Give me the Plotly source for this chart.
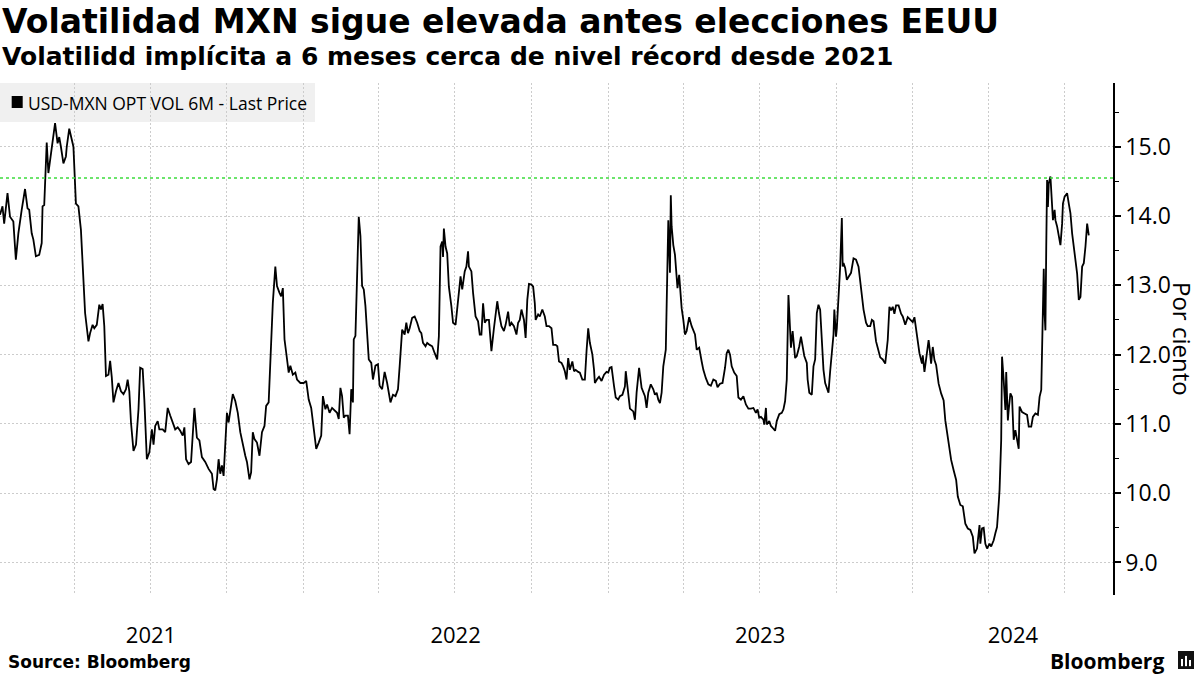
import pandas as pd
import plotly.graph_objects as go

# --- DATA: USD-MXN 6M implied vol (readings from the chart) ---
vol_2021 = [
    ("2021-01-02", 14.02), ("2021-01-05", 14.14), ("2021-01-07", 13.89), ("2021-01-11", 14.33), ("2021-01-14", 13.99),
    ("2021-01-18", 13.92), ("2021-01-21", 13.37), ("2021-01-24", 13.75), ("2021-01-28", 14.09),
    ("2021-02-01", 14.39), ("2021-02-04", 14.11), ("2021-02-06", 14.09), ("2021-02-09", 13.75), ("2021-02-11", 13.66),
    ("2021-02-14", 13.42), ("2021-02-18", 13.44), ("2021-02-21", 13.61), ("2021-02-22", 14.14), ("2021-02-24", 14.16),
    ("2021-02-27", 15.06),
    ("2021-03-01", 14.62), ("2021-03-03", 14.81), ("2021-03-06", 15.07), ("2021-03-09", 15.34), ("2021-03-12", 15.05),
    ("2021-03-14", 15.14), ("2021-03-16", 15.00), ("2021-03-19", 14.76), ("2021-03-22", 14.86), ("2021-03-23", 15.00),
    ("2021-03-26", 15.26), ("2021-03-29", 15.12), ("2021-03-31", 15.00),
    ("2021-04-03", 14.18), ("2021-04-06", 14.14), ("2021-04-09", 13.80), ("2021-04-11", 13.32), ("2021-04-14", 12.60),
    ("2021-04-18", 12.19), ("2021-04-20", 12.31), ("2021-04-23", 12.43), ("2021-04-25", 12.38), ("2021-04-28", 12.43),
    ("2021-05-01", 12.72), ("2021-05-03", 12.65), ("2021-05-05", 12.73), ("2021-05-07", 12.41), ("2021-05-09", 11.69),
    ("2021-05-12", 11.71), ("2021-05-14", 11.91), ("2021-05-16", 11.67), ("2021-05-18", 11.31), ("2021-05-21", 11.47),
    ("2021-05-24", 11.59), ("2021-05-27", 11.47), ("2021-05-30", 11.43),
    ("2021-06-02", 11.50), ("2021-06-04", 11.64), ("2021-06-06", 11.47), ("2021-06-08", 11.02), ("2021-06-11", 10.61),
    ("2021-06-14", 10.70), ("2021-06-17", 11.21), ("2021-06-19", 11.81), ("2021-06-22", 11.79), ("2021-06-24", 11.35),
    ("2021-06-27", 10.49), ("2021-06-30", 10.59),
    ("2021-07-03", 10.92), ("2021-07-05", 10.70), ("2021-07-07", 10.97), ("2021-07-10", 11.04), ("2021-07-12", 10.92),
    ("2021-07-16", 10.92), ("2021-07-19", 10.88), ("2021-07-22", 11.23), ("2021-07-25", 11.12), ("2021-07-28", 11.02),
    ("2021-07-31", 10.92),
    ("2021-08-03", 10.95), ("2021-08-06", 10.90), ("2021-08-09", 10.83), ("2021-08-11", 10.95), ("2021-08-13", 10.49),
    ("2021-08-16", 10.42), ("2021-08-19", 10.45), ("2021-08-21", 10.83), ("2021-08-23", 11.23), ("2021-08-26", 10.80),
    ("2021-08-29", 10.76),
    ("2021-09-01", 10.52), ("2021-09-05", 10.45), ("2021-09-09", 10.35), ("2021-09-13", 10.28), ("2021-09-15", 10.06),
    ("2021-09-17", 10.04), ("2021-09-19", 10.20), ("2021-09-21", 10.49), ("2021-09-23", 10.28), ("2021-09-25", 10.40),
    ("2021-09-27", 10.25), ("2021-09-29", 10.68),
    ("2021-10-01", 11.16), ("2021-10-03", 11.02), ("2021-10-05", 11.16), ("2021-10-08", 11.43), ("2021-10-11", 11.33),
    ("2021-10-14", 11.16), ("2021-10-17", 10.88), ("2021-10-20", 10.68), ("2021-10-23", 10.54), ("2021-10-25", 10.45),
    ("2021-10-28", 10.20), ("2021-10-30", 10.30),
    ("2021-11-01", 10.88), ("2021-11-03", 10.78), ("2021-11-06", 10.73), ("2021-11-09", 10.54), ("2021-11-12", 10.88),
    ("2021-11-15", 10.97), ("2021-11-17", 11.26), ("2021-11-20", 11.31), ("2021-11-23", 12.12), ("2021-11-25", 12.75),
    ("2021-11-28", 13.27), ("2021-11-30", 12.99),
    ("2021-12-03", 12.89), ("2021-12-05", 12.84), ("2021-12-07", 12.96), ("2021-12-09", 12.22), ("2021-12-11", 12.03),
    ("2021-12-14", 11.74), ("2021-12-16", 11.84), ("2021-12-19", 11.71), ("2021-12-22", 11.74), ("2021-12-24", 11.64),
    ("2021-12-28", 11.59),
]

vol_2022 = [
    ("2022-01-01", 11.59), ("2022-01-04", 11.62), ("2022-01-07", 11.35), ("2022-01-10", 11.23), ("2022-01-13", 10.97),
    ("2022-01-16", 10.64), ("2022-01-19", 10.73), ("2022-01-22", 10.83), ("2022-01-24", 11.40), ("2022-01-27", 11.21),
    ("2022-01-29", 11.28),
    ("2022-02-01", 11.16), ("2022-02-04", 11.23), ("2022-02-07", 11.19), ("2022-02-10", 11.16), ("2022-02-12", 11.07),
    ("2022-02-14", 11.52), ("2022-02-16", 11.40), ("2022-02-18", 11.09), ("2022-02-20", 11.12), ("2022-02-23", 11.12),
    ("2022-02-25", 10.85), ("2022-02-27", 11.50),
    ("2022-03-01", 11.31), ("2022-03-02", 12.22), ("2022-03-04", 12.27), ("2022-03-06", 12.99), ("2022-03-08", 13.99),
    ("2022-03-10", 13.71), ("2022-03-12", 12.99), ("2022-03-14", 12.94), ("2022-03-16", 12.70), ("2022-03-18", 12.31),
    ("2022-03-20", 11.93), ("2022-03-23", 11.88), ("2022-03-25", 11.64), ("2022-03-28", 11.84), ("2022-03-31", 11.86),
    ("2022-04-02", 11.55), ("2022-04-05", 11.50), ("2022-04-08", 11.75), ("2022-04-11", 11.59), ("2022-04-15", 11.31),
    ("2022-04-18", 11.42), ("2022-04-21", 11.40), ("2022-04-24", 11.50), ("2022-04-26", 11.83), ("2022-04-29", 12.36),
    ("2022-05-02", 12.29), ("2022-05-04", 12.46), ("2022-05-06", 12.31), ("2022-05-08", 12.38), ("2022-05-11", 12.53),
    ("2022-05-14", 12.55), ("2022-05-17", 12.46), ("2022-05-20", 12.34), ("2022-05-22", 12.31), ("2022-05-24", 12.17),
    ("2022-05-27", 12.12), ("2022-05-29", 12.17),
    ("2022-06-01", 12.14), ("2022-06-04", 12.12), ("2022-06-07", 12.02), ("2022-06-10", 11.93), ("2022-06-12", 12.26),
    ("2022-06-14", 13.56), ("2022-06-16", 13.63), ("2022-06-17", 13.41), ("2022-06-18", 13.82), ("2022-06-20", 13.56),
    ("2022-06-22", 13.46), ("2022-06-24", 12.98), ("2022-06-27", 12.70), ("2022-06-29", 12.46),
    ("2022-07-02", 12.43), ("2022-07-04", 12.67), ("2022-07-06", 12.86), ("2022-07-08", 13.13), ("2022-07-10", 12.94),
    ("2022-07-13", 13.20), ("2022-07-15", 13.27), ("2022-07-17", 13.49), ("2022-07-18", 13.27), ("2022-07-21", 13.20),
    ("2022-07-23", 12.89), ("2022-07-26", 12.55), ("2022-07-29", 12.48), ("2022-07-31", 12.29),
    ("2022-08-02", 12.29), ("2022-08-04", 12.74), ("2022-08-06", 12.46), ("2022-08-08", 12.50), ("2022-08-11", 12.50),
    ("2022-08-13", 12.17), ("2022-08-14", 12.05), ("2022-08-17", 12.38), ("2022-08-19", 12.58), ("2022-08-21", 12.77),
    ("2022-08-23", 12.60), ("2022-08-26", 12.41), ("2022-08-29", 12.34), ("2022-08-31", 12.43),
    ("2022-09-03", 12.62), ("2022-09-05", 12.41), ("2022-09-07", 12.46), ("2022-09-10", 12.41), ("2022-09-13", 12.29),
    ("2022-09-15", 12.46), ("2022-09-17", 12.50), ("2022-09-19", 12.65), ("2022-09-22", 12.50), ("2022-09-24", 12.24),
    ("2022-09-26", 12.79), ("2022-09-28", 13.02),
    ("2022-10-01", 13.01), ("2022-10-03", 12.98), ("2022-10-05", 12.74), ("2022-10-06", 12.50), ("2022-10-09", 12.58),
    ("2022-10-11", 12.55), ("2022-10-14", 12.65), ("2022-10-17", 12.55), ("2022-10-19", 12.41), ("2022-10-22", 12.41),
    ("2022-10-25", 12.38), ("2022-10-27", 12.14), ("2022-10-30", 12.14),
    ("2022-11-01", 12.12), ("2022-11-03", 11.90), ("2022-11-06", 11.88), ("2022-11-08", 11.83), ("2022-11-10", 11.76),
    ("2022-11-12", 11.64), ("2022-11-14", 11.95), ("2022-11-16", 11.78), ("2022-11-19", 11.90), ("2022-11-21", 11.76),
    ("2022-11-23", 11.78), ("2022-11-26", 11.75), ("2022-11-28", 11.74),
    ("2022-12-01", 11.64), ("2022-12-04", 11.64), ("2022-12-06", 12.05), ("2022-12-08", 12.38), ("2022-12-10", 12.17),
    ("2022-12-13", 12.00), ("2022-12-15", 11.78), ("2022-12-16", 11.59), ("2022-12-19", 11.65), ("2022-12-21", 11.68),
    ("2022-12-24", 11.62), ("2022-12-27", 11.71), ("2022-12-30", 11.75),
]

vol_2023 = [
    ("2023-01-01", 11.74), ("2023-01-03", 11.81), ("2023-01-05", 11.82), ("2023-01-08", 11.54), ("2023-01-10", 11.38),
    ("2023-01-13", 11.35), ("2023-01-15", 11.40), ("2023-01-18", 11.42), ("2023-01-21", 11.54), ("2023-01-22", 11.76),
    ("2023-01-24", 11.54), ("2023-01-26", 11.26), ("2023-01-27", 11.22), ("2023-01-31", 11.18),
    ("2023-02-02", 11.06), ("2023-02-04", 11.45), ("2023-02-07", 11.81), ("2023-02-10", 11.52), ("2023-02-12", 11.45),
    ("2023-02-14", 11.40), ("2023-02-16", 11.23), ("2023-02-18", 11.45), ("2023-02-21", 11.57), ("2023-02-24", 11.50),
    ("2023-02-26", 11.42), ("2023-02-28", 11.45),
    ("2023-03-02", 11.35), ("2023-03-04", 11.30), ("2023-03-06", 11.45), ("2023-03-08", 11.83), ("2023-03-11", 12.07),
    ("2023-03-13", 13.08), ("2023-03-14", 13.94), ("2023-03-16", 13.18), ("2023-03-17", 14.30), ("2023-03-18", 13.85),
    ("2023-03-20", 13.58), ("2023-03-22", 13.44), ("2023-03-24", 13.18), ("2023-03-25", 12.96), ("2023-03-27", 13.15),
    ("2023-03-28", 12.94), ("2023-03-30", 12.67),
    ("2023-04-01", 12.50), ("2023-04-03", 12.29), ("2023-04-05", 12.34), ("2023-04-08", 12.54), ("2023-04-11", 12.41),
    ("2023-04-15", 12.29), ("2023-04-17", 12.07), ("2023-04-20", 12.10), ("2023-04-23", 11.90), ("2023-04-25", 11.78),
    ("2023-04-28", 11.66),
    ("2023-05-01", 11.57), ("2023-05-04", 11.55), ("2023-05-07", 11.64), ("2023-05-10", 11.62), ("2023-05-12", 11.53),
    ("2023-05-15", 11.58), ("2023-05-18", 11.59), ("2023-05-21", 11.81), ("2023-05-23", 12.02), ("2023-05-25", 12.07),
    ("2023-05-27", 12.00), ("2023-05-29", 11.83),
    ("2023-06-01", 11.74), ("2023-06-04", 11.69), ("2023-06-06", 11.38), ("2023-06-09", 11.35), ("2023-06-12", 11.40),
    ("2023-06-15", 11.28), ("2023-06-18", 11.22), ("2023-06-21", 11.22), ("2023-06-24", 11.23), ("2023-06-27", 11.16),
    ("2023-06-29", 11.21),
    ("2023-07-01", 11.09), ("2023-07-03", 11.10), ("2023-07-06", 11.06), ("2023-07-07", 10.99), ("2023-07-09", 11.23),
    ("2023-07-10", 10.99), ("2023-07-13", 11.04), ("2023-07-15", 10.97), ("2023-07-18", 10.93), ("2023-07-20", 10.90),
    ("2023-07-22", 11.04), ("2023-07-25", 11.14), ("2023-07-28", 11.16), ("2023-07-30", 11.21),
    ("2023-08-01", 11.33), ("2023-08-03", 11.64), ("2023-08-05", 12.86), ("2023-08-07", 12.46), ("2023-08-08", 12.10),
    ("2023-08-10", 12.34), ("2023-08-11", 12.22), ("2023-08-13", 11.95), ("2023-08-15", 11.98), ("2023-08-18", 12.12),
    ("2023-08-20", 12.26), ("2023-08-22", 12.14), ("2023-08-24", 11.98), ("2023-08-27", 11.88), ("2023-08-28", 11.64),
    ("2023-08-30", 11.45),
    ("2023-09-02", 11.42), ("2023-09-04", 11.83), ("2023-09-06", 11.93), ("2023-09-08", 12.60), ("2023-09-10", 12.72),
    ("2023-09-12", 12.65), ("2023-09-14", 12.22), ("2023-09-16", 11.78), ("2023-09-18", 11.59), ("2023-09-22", 11.45),
    ("2023-09-24", 11.76), ("2023-09-26", 12.02), ("2023-09-28", 12.29), ("2023-09-29", 12.65),
    ("2023-10-01", 12.26), ("2023-10-02", 12.38), ("2023-10-04", 12.86), ("2023-10-06", 13.27), ("2023-10-08", 13.97),
    ("2023-10-09", 13.27), ("2023-10-10", 13.32), ("2023-10-12", 13.25), ("2023-10-14", 13.08), ("2023-10-17", 13.15),
    ("2023-10-19", 13.18), ("2023-10-22", 13.39), ("2023-10-25", 13.37), ("2023-10-28", 13.27), ("2023-10-30", 13.08),
    ("2023-11-01", 12.89), ("2023-11-03", 12.65), ("2023-11-06", 12.46), ("2023-11-08", 12.41), ("2023-11-11", 12.41),
    ("2023-11-13", 12.50), ("2023-11-15", 12.48), ("2023-11-18", 12.19), ("2023-11-20", 12.10), ("2023-11-22", 11.98),
    ("2023-11-23", 11.96), ("2023-11-26", 11.93), ("2023-11-29", 11.87),
    ("2023-12-02", 12.21), ("2023-12-04", 12.69), ("2023-12-06", 12.64), ("2023-12-08", 12.69), ("2023-12-10", 12.59),
    ("2023-12-12", 12.71), ("2023-12-15", 12.71), ("2023-12-18", 12.59), ("2023-12-20", 12.55), ("2023-12-23", 12.43),
    ("2023-12-26", 12.54), ("2023-12-29", 12.50),
]

vol_2024 = [
    ("2024-01-01", 12.47), ("2024-01-03", 12.54), ("2024-01-05", 12.35), ("2024-01-07", 12.21), ("2024-01-09", 12.02),
    ("2024-01-12", 11.87), ("2024-01-13", 11.99), ("2024-01-15", 11.75), ("2024-01-17", 11.92), ("2024-01-20", 12.21),
    ("2024-01-21", 12.11), ("2024-01-23", 11.87), ("2024-01-25", 12.11), ("2024-01-27", 11.92), ("2024-01-29", 11.85),
    ("2024-02-01", 11.58), ("2024-02-04", 11.44), ("2024-02-07", 11.34), ("2024-02-09", 11.05), ("2024-02-12", 10.81),
    ("2024-02-14", 10.69), ("2024-02-16", 10.48), ("2024-02-19", 10.33), ("2024-02-22", 10.19), ("2024-02-24", 9.95),
    ("2024-02-27", 9.83),
    ("2024-03-01", 9.81), ("2024-03-04", 9.56), ("2024-03-07", 9.49), ("2024-03-10", 9.47), ("2024-03-13", 9.37),
    ("2024-03-15", 9.13), ("2024-03-18", 9.20), ("2024-03-21", 9.54), ("2024-03-22", 9.27), ("2024-03-24", 9.49),
    ("2024-03-26", 9.50), ("2024-03-28", 9.27), ("2024-03-30", 9.20),
    ("2024-04-02", 9.27), ("2024-04-04", 9.23), ("2024-04-07", 9.32), ("2024-04-09", 9.42), ("2024-04-11", 9.51),
    ("2024-04-13", 9.85), ("2024-04-14", 10.04), ("2024-04-16", 10.77), ("2024-04-17", 11.97), ("2024-04-19", 11.63),
    ("2024-04-21", 11.20), ("2024-04-22", 11.75), ("2024-04-24", 11.05), ("2024-04-25", 11.20), ("2024-04-27", 11.44),
    ("2024-04-29", 11.39),
    ("2024-05-01", 10.77), ("2024-05-03", 10.91), ("2024-05-05", 10.77), ("2024-05-07", 10.64), ("2024-05-08", 11.25),
    ("2024-05-11", 11.17), ("2024-05-14", 11.15), ("2024-05-17", 11.13), ("2024-05-19", 10.96), ("2024-05-22", 10.96),
    ("2024-05-24", 11.10), ("2024-05-27", 11.15), ("2024-05-30", 11.13),
    ("2024-06-01", 11.39), ("2024-06-03", 11.49), ("2024-06-04", 12.11), ("2024-06-06", 13.24), ("2024-06-07", 12.59),
    ("2024-06-08", 12.35), ("2024-06-09", 13.56), ("2024-06-10", 14.52), ("2024-06-11", 14.13), ("2024-06-12", 14.47),
    ("2024-06-14", 14.57), ("2024-06-16", 14.13), ("2024-06-17", 13.94), ("2024-06-19", 14.09), ("2024-06-20", 13.94),
    ("2024-06-22", 13.85), ("2024-06-24", 13.70), ("2024-06-26", 13.58), ("2024-06-28", 13.89), ("2024-06-29", 14.18),
    ("2024-07-01", 14.28), ("2024-07-04", 14.33), ("2024-07-06", 14.18), ("2024-07-08", 14.04), ("2024-07-10", 13.75),
    ("2024-07-12", 13.56), ("2024-07-14", 13.32), ("2024-07-16", 13.17), ("2024-07-18", 12.79), ("2024-07-20", 12.83),
    ("2024-07-22", 13.27), ("2024-07-24", 13.32), ("2024-07-26", 13.56), ("2024-07-28", 13.89), ("2024-07-30", 13.72),
]

record_level = 14.55  # green reference line

year_ticks = ["2021-07-02", "2022-07-02", "2023-07-02", "2024-04-30"]
year_labels = ["2021", "2022", "2023", "2024"]
y_ticks = [9, 10, 11, 12, 13, 14, 15]
y_minor = [9.5, 10.5, 11.5, 12.5, 13.5, 14.5, 15.5]
x_range = ["2021-01-02", "2024-08-28"]
y_range = [8.53, 15.92]
quarter_lines = [d.strftime("%Y-%m-%d") for d in pd.date_range("2021-01-01", "2024-07-01", freq="QS")]

series_name = "USD-MXN OPT VOL 6M - Last Price"
title = "Volatilidad MXN sigue elevada antes elecciones EEUU"
subtitle = "Volatilidd implícita a 6 meses cerca de nivel récord desde 2021"

points = vol_2021 + vol_2022 + vol_2023 + vol_2024
df = pd.DataFrame(points, columns=["date", "vol"])
df["date"] = pd.to_datetime(df["date"])

GRID = "#cccccc"

fig = go.Figure()
fig.add_trace(go.Scatter(
    x=df["date"], y=df["vol"], mode="lines", name=series_name,
    line=dict(color="black", width=1.8), showlegend=False
))
fig.add_hline(y=record_level, line=dict(color="#3ddc3d", width=1.5, dash="dot"))

fig.update_layout(
    width=1200, height=675,
    margin=dict(l=0, r=87, t=83, b=80),
    paper_bgcolor="white", plot_bgcolor="white",
    showlegend=False,
    font=dict(family="Open Sans", color="black"),
    xaxis=dict(
        range=x_range, tickmode="array", tickvals=year_ticks, ticktext=year_labels,
        ticks="outside", ticklen=21, tickcolor="rgba(0,0,0,0)",
        showgrid=False, showline=False, zeroline=False,
        tickfont=dict(family="Open Sans", size=22, color="black"),
        minor=dict(tickmode="array", tickvals=quarter_lines, showgrid=True,
                   gridcolor=GRID, griddash="2px,2px", gridwidth=1, ticks=""),
    ),
    yaxis=dict(
        side="right", range=y_range, tickmode="array", tickvals=y_ticks, tickformat=".1f",
        ticks="outside", ticklen=6, tickwidth=1.5, tickcolor="black",
        showline=True, linecolor="black", linewidth=1.5,
        showgrid=True, gridcolor=GRID, griddash="2px,2px", gridwidth=1, zeroline=False,
        tickfont=dict(family="Open Sans", size=23, color="black"),
        minor=dict(tickmode="array", tickvals=y_minor, ticks="outside", ticklen=4,
                   tickwidth=1.2, tickcolor="black", showgrid=False),
    ),
)

# legend box (Bloomberg style), drawn by hand; grid shows through it
fig.add_shape(type="rect", xref="paper", yref="paper", x0=0, x1=0.283, y0=0.9238, y1=1.0,
              fillcolor="#f0f0f0", line=dict(width=0), layer="below")
fig.add_shape(type="rect", xref="paper", yref="paper", x0=0.0105, x1=0.0204, y0=0.9512, y1=0.9746,
              fillcolor="black", line=dict(width=0), layer="above")

# bloomberg mark
fig.add_shape(type="rect", xref="paper", yref="paper", x0=1.0584, x1=1.0728, y0=-0.1445, y1=-0.1094,
              fillcolor="#111111", line=dict(width=0))
for bx0, bx1, top in [(1.0611, 1.0629, -0.1250), (1.0647, 1.0665, -0.1190), (1.0683, 1.0701, -0.1270)]:
    fig.add_shape(type="rect", xref="paper", yref="paper", x0=bx0, x1=bx1, y0=-0.1390, y1=top,
                  fillcolor="white", line=dict(width=0))

annotations = [
    dict(text="<b>" + title + "</b>", x=0, y=1.121, xanchor="left", yanchor="middle",
         font=dict(family="DejaVu Sans", size=33, color="black")),
    dict(text="<b>" + subtitle + "</b>", x=0, y=1.051, xanchor="left", yanchor="middle",
         font=dict(family="DejaVu Sans", size=25, color="black")),
    dict(text=series_name, x=0.0237, y=0.9619, xanchor="left", yanchor="middle",
         font=dict(family="Open Sans", size=17.5, color="black")),
    dict(text="Por ciento", x=1.0629, y=0.5, xanchor="center", yanchor="middle", textangle=90,
         font=dict(family="Open Sans", size=24, color="black")),
    dict(text="<b>Source: Bloomberg</b>", x=0.0054, y=-0.1309, xanchor="left", yanchor="middle",
         font=dict(family="DejaVu Sans", size=17, color="black")),
    dict(text="<b>Bloomberg</b>", x=1.0476, y=-0.129, xanchor="right", yanchor="middle",
         font=dict(family="Open Sans", size=21, color="black")),
]
for a in annotations:
    fig.add_annotation(xref="paper", yref="paper", showarrow=False, **a)

# the page's default body margin would shift the 1200x675 figure
fig.write_html("out.html", config={"displayModeBar": False},
               post_script="document.body.style.margin='0px';")
